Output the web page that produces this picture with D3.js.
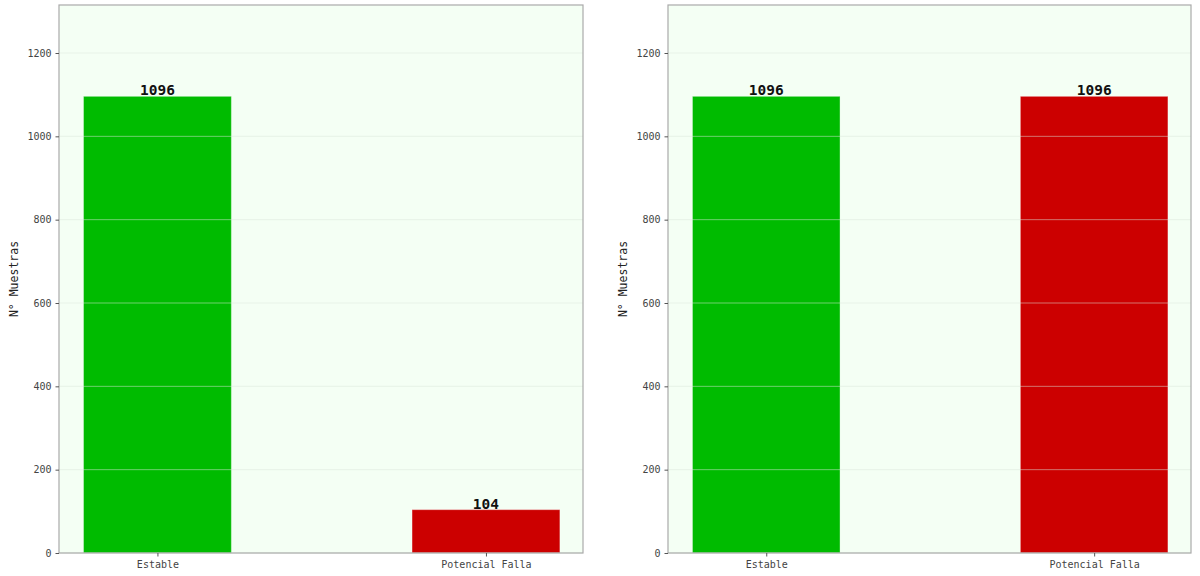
<!DOCTYPE html>
<html>
<head>
<meta charset="utf-8">
<script src="https://cdn.jsdelivr.net/npm/d3@7"></script>
<style>
  body { margin: 0; background: #fff; }
  svg text { font-family: "DejaVu Sans Mono", monospace; }
</style>
</head>
<body>
<svg id="chart" width="1200" height="576"></svg>
<script>
const categories = ["Estable", "Potencial Falla"];
const countsBefore = [1096, 104];
const countsAfter = [1096, 1096];
const barColors = ["#00bb00", "#cc0000"];
const yTicks = [0, 200, 400, 600, 800, 1000, 1200];
const yLabel = "N° Muestras";

const svg = d3.select('#chart');

const panels = [
    { values: countsBefore, left: 59, right: 583 },
    { values: countsAfter, left: 668, right: 1191 }
];
const plotTop = 5, plotBottom = 553;
const barWidth = 0.45;

panels.forEach(p => {
    const g = svg.append('g');
    const ymax = d3.max(p.values) * 1.2;
    const y = d3.scaleLinear().domain([0, ymax]).range([plotBottom, plotTop]);
    // category positions like matplotlib: 0, 1 with margins
    const x = d3.scaleLinear().domain([-0.2975, 1.2975]).range([p.left + 0.7, p.right + 0.7]);

    g.append('rect')
        .attr('x', p.left).attr('y', plotTop)
        .attr('width', p.right - p.left).attr('height', plotBottom - plotTop)
        .attr('fill', '#f4fff4');

    g.selectAll('rect.bar')
        .data(p.values)
        .enter()
        .append('rect')
        .attr('class', 'bar')
        .attr('x', (d, i) => x(i - barWidth / 2))
        .attr('y', d => y(d))
        .attr('width', x(barWidth) - x(0))
        .attr('height', d => plotBottom - y(d))
        .attr('fill', (d, i) => barColors[i])
        .attr('stroke', 'rgba(255,255,255,0.35)')
        .attr('stroke-width', 1);

    // grid on top of bars
    g.selectAll('line.grid')
        .data(yTicks)
        .enter()
        .append('line')
        .attr('x1', p.left).attr('x2', p.right)
        .attr('y1', d => y(d)).attr('y2', d => y(d))
        .style('stroke', 'rgba(220,232,220,0.5)')
        .style('stroke-width', 1);

    g.append('rect')
        .attr('x', p.left).attr('y', plotTop)
        .attr('width', p.right - p.left).attr('height', plotBottom - plotTop)
        .attr('fill', 'none')
        .attr('stroke', '#aaaaaa')
        .attr('stroke-width', 1.2);

    const yAxis = g.append('g')
        .attr('transform', `translate(${p.left},0)`)
        .call(d3.axisLeft(y).tickValues(yTicks).tickSize(3.5).tickPadding(4).tickFormat(d3.format('d')));
    yAxis.select('.domain').remove();
    yAxis.selectAll('line').attr('stroke', '#555');
    yAxis.selectAll('text').attr('fill', '#444').style('font-size', '10px');

    const xAxis = g.append('g')
        .attr('transform', `translate(0,${plotBottom})`)
        .call(d3.axisBottom(x).tickValues([0, 1]).tickSize(3.5).tickPadding(4).tickFormat(i => categories[i]));
    xAxis.select('.domain').remove();
    xAxis.selectAll('line').attr('stroke', '#555');
    xAxis.selectAll('text').attr('fill', '#444').style('font-size', '10px');

    g.selectAll('text.val')
        .data(p.values)
        .enter()
        .append('text')
        .attr('class', 'val')
        .attr('x', (d, i) => x(i))
        .attr('y', d => y(d) - 1)
        .attr('text-anchor', 'middle')
        .style('font-size', '14.5px')
        .style('font-weight', 'bold')
        .attr('fill', '#111')
        .text(d => d);

    g.append('text')
        .attr('transform', `translate(${p.left - 45},${(plotTop + plotBottom) / 2}) rotate(-90)`)
        .attr('text-anchor', 'middle')
        .attr('dy', '0.35em')
        .style('font-size', '11.5px')
        .attr('fill', '#222')
        .text(yLabel);
});
</script>
</body>
</html>
